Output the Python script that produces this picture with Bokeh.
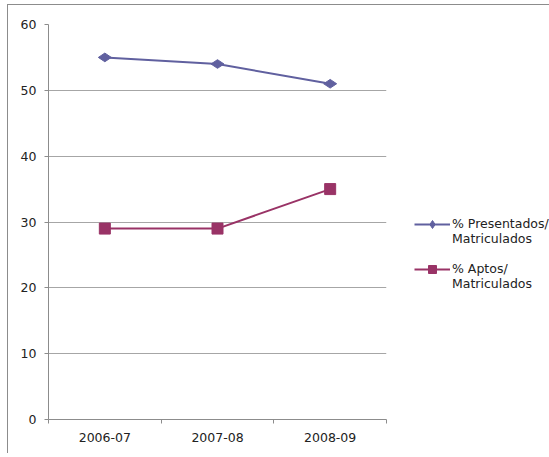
import math
from bokeh.plotting import figure
from bokeh.models import Range1d, FixedTicker, Legend, LegendItem
from bokeh.embed import file_html
from bokeh.resources import INLINE

# Academic years and percentages per year
cursos = ["2006-07", "2007-08", "2008-09"]
presentados = [55, 54, 51]
aptos = [29, 29, 35]
y_ticks = [0, 10, 20, 30, 40, 50, 60]

FONT = "DejaVu Sans"
AXIS_GREY = "#8c8c8c"
GRID_GREY = "#a6a6a6"
TEXT = "#222222"
FONT_SIZE = "12.5px"

# one slot per course: centres at i + 0.5, boundaries at integers
xs = [i + 0.5 for i in range(len(cursos))]
bounds = list(range(len(cursos) + 1))

p = figure(
    frame_width=338, frame_height=395,
    x_range=Range1d(0, len(cursos)), y_range=Range1d(0, 60),
    output_backend="svg", toolbar_location=None,
    min_border_left=40, min_border_right=10,
    min_border_top=19, min_border_bottom=34,
    margin=(4, 0, 0, 7),
    styles={"border-top": "1px solid #8c8c8c", "border-left": "1px solid #8c8c8c"},
)
p.outline_line_color = None
p.background_fill_color = "white"
p.border_fill_color = "white"

# axes
p.xaxis.ticker = FixedTicker(ticks=xs, minor_ticks=bounds)
p.xaxis.major_label_overrides = {x: c for x, c in zip(xs, cursos)}
p.xaxis.major_tick_out = 0
p.xaxis.major_tick_in = 0
p.xaxis.minor_tick_out = 4
p.xaxis.minor_tick_in = 0
p.xaxis.minor_tick_line_color = AXIS_GREY
p.xaxis.axis_line_color = AXIS_GREY
p.xaxis.major_label_standoff = 9

p.yaxis.ticker = FixedTicker(ticks=y_ticks)
p.yaxis.major_tick_out = 4
p.yaxis.major_tick_in = 0
p.yaxis.minor_tick_line_color = None
p.yaxis.major_tick_line_color = AXIS_GREY
p.yaxis.axis_line_color = AXIS_GREY
p.yaxis.major_label_standoff = 8

for ax in (p.xaxis, p.yaxis):
    ax.major_label_text_font = FONT
    ax.major_label_text_font_size = FONT_SIZE
    ax.major_label_text_color = TEXT

p.xgrid.grid_line_color = None
p.ygrid.ticker = FixedTicker(ticks=y_ticks[1:])
p.ygrid.grid_line_color = GRID_GREY
p.ygrid.grid_line_width = 1

# series
c1 = "#60609f"
c2 = "#993366"
l1 = p.line(xs, presentados, line_color=c1, line_width=2)
m1 = p.scatter(xs, presentados, marker="diamond", size=13, angle=math.pi / 2,
               fill_color=c1, line_color=c1)
l2 = p.line(xs, aptos, line_color=c2, line_width=2)
m2 = p.scatter(xs, aptos, marker="square", size=11, fill_color=c2, line_color=c2)

# leading blank line keeps the legend glyph level with the first text line
legend = Legend(
    items=[
        LegendItem(label="\n% Presentados/\nMatriculados", renderers=[l1, m1]),
        LegendItem(label="\n% Aptos/\nMatriculados", renderers=[l2, m2]),
    ],
    location=(28, 128),
    border_line_color=None,
    background_fill_alpha=0,
    label_text_font=FONT,
    label_text_font_size=FONT_SIZE,
    label_text_line_height=1.1,
    label_text_color=TEXT,
    glyph_width=36,
    label_standoff=2,
    spacing=0,
    padding=0,
    margin=0,
)
p.add_layout(legend, "right")

open("out.html", "w").write(file_html(p, INLINE))
